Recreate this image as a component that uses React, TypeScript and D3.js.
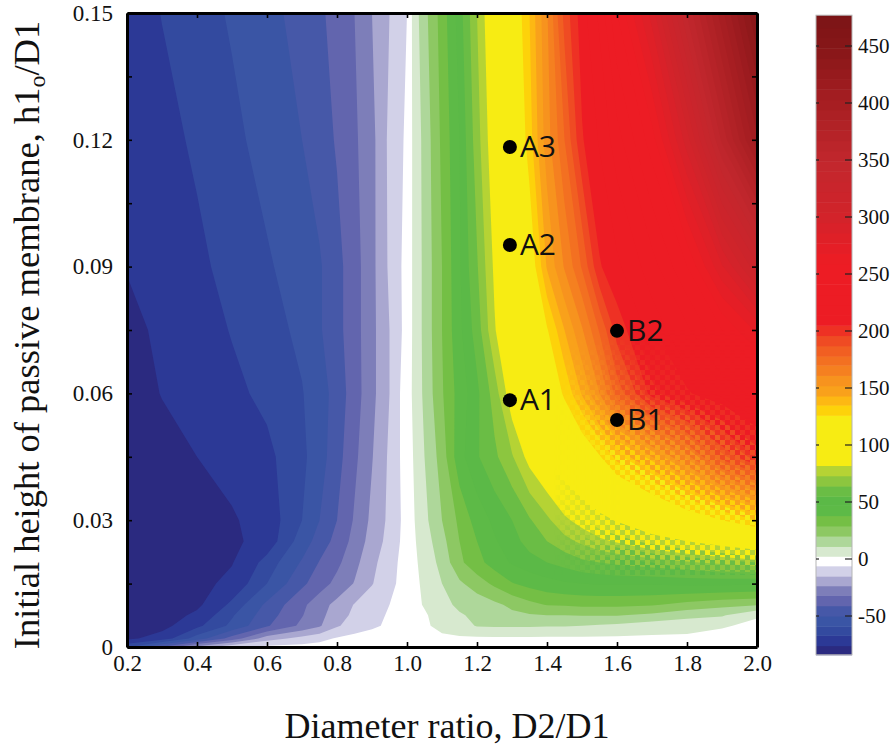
import React, { useEffect, useRef } from 'react';
import * as d3 from 'd3';

// D2/D1 columns and h1o/D1 rows of the value table (not evenly spaced)
const ratios = [0.2, 0.3, 0.4, 0.5, 0.6, 0.7, 0.75, 0.8, 0.85, 0.9, 0.95, 0.98, 1.0, 1.02, 1.05, 1.1, 1.15, 1.2, 1.25, 1.3, 1.35, 1.4, 1.45, 1.5, 1.55, 1.6, 1.7, 1.8, 1.9, 2.0];
const heights = [0, 0.002, 0.005, 0.0075, 0.01, 0.015, 0.02, 0.025, 0.03, 0.045, 0.06, 0.075, 0.09, 0.12, 0.15];

const row000 = [-60, -40, -20, -8, -4, -3, -2, -2, -1, -1, -1, -1, -1, 0, 0, 0, 0, 0, 0, 0, 0, 0, 0, 0, 0, 0, 0, 0, 0, 0];
const row002 = [-78, -72, -55, -37, -19, -12, -9, -5, -3, -2, -1, -1, -1, 0, 0, 0.5, 1, 1, 1, 1, 1, 1, 1, 1, 1, 1, 1, 1, 0, 0];
const row005 = [-84, -79, -69, -57, -42, -30, -24.5, -16, -11, -7.5, -4.5, -3, -2, -1, 1, 5, 8, 11.5, 12, 12, 12, 11.5, 11.5, 11, 10, 9, 6, 5, 3, 1];
const row0075 = [-84, -81, -74, -60, -45, -32.5, -26, -19, -13, -9, -5, -3, -1.5, 0, 1.5, 6, 10, 13, 15, 18, 19, 20, 20, 20.5, 20.5, 20.5, 18, 14, 12, 3];
const row010 = [-84, -81, -78, -65, -48, -34, -27, -21, -14.5, -10, -6, -3.5, -2, 0.5, 3, 8, 13, 15, 18, 22, 26.5, 29.5, 30, 31, 31, 31, 30, 26, 23, 21];
const row015 = [-84, -82, -79, -73.5, -59, -43, -36, -29.5, -23, -15.5, -8.5, -4.5, -2, 0.5, 4, 11, 18.5, 24.5, 31, 37.5, 41, 44, 46, 47, 48, 48, 48, 49, 49, 48];
const row020 = [-84, -82, -79, -76.5, -64, -49, -40.5, -34, -26, -17.5, -9.5, -5, -2, 1, 5, 14, 27, 35, 42, 48, 52, 55, 58, 62, 64, 66, 69, 72, 75, 78];
const row025 = [-84, -82, -80, -78, -72, -55, -46, -38, -29, -20, -12, -6, -2, 1.5, 6.5, 17, 29, 38, 46, 52, 58, 64, 70, 75, 80, 83, 90, 96, 102, 108];
const row030 = [-84, -82, -80, -77, -72, -59, -50, -41, -31, -21.5, -13, -6.5, -2.5, 2, 8.5, 20, 31, 42, 49, 55, 63, 71, 80, 86, 92, 97, 108, 118, 126, 135];
const row045 = [-82, -79, -76, -72.5, -69, -61, -54, -44.5, -34, -24, -13.5, -6, -1.5, 3, 11, 24, 44, 54, 62, 72, 86, 96, 106, 115, 125, 138, 152, 168, 190, 205];
const row060 = [-80, -75.7, -72, -69, -65, -59.5, -54, -46.5, -36, -26, -15, -6, -1, 4, 13, 28, 42, 53, 68, 89, 102, 113, 128, 144, 161, 182, 208, 218, 225, 235];
const row075 = [-79, -74, -71, -66.5, -62.5, -57, -51, -44, -35.5, -26, -15, -7.5, -2, 4, 13.5, 29, 45, 59, 81, 96, 110, 125, 143, 160, 179, 200, 218, 230, 250, 270];
const row090 = [-75.5, -72, -69, -64, -60, -55, -51, -44, -35.5, -26, -13.5, -7, -2, 4, 13.5, 29, 46, 63, 84, 100, 117, 144, 162, 179, 204, 212, 228, 250, 285, 320];
const row120 = [-75, -70, -65.5, -61, -56, -50, -45.5, -40, -33.5, -26, -13, -8.5, -3.5, 4.5, 14, 31, 47, 69, 90, 109, 131, 157, 178, 204, 215, 228, 255, 300, 360, 410];
const row150 = [-72, -66.7, -62.5, -58, -53.5, -46, -42.5, -38, -32, -23.5, -15, -10, -6, 6, 17, 33, 51, 73, 94, 115, 135, 160, 190, 210, 225, 250, 290, 350, 400, 450];
const tableRows = [row000, row002, row005, row0075, row010, row015, row020, row025, row030, row045, row060, row075, row090, row120, row150];

// colour bands
const bandEdges = [-84, -76, -67, -59, -50, -41, -32, -23.5, -15, -6, 2.4, 11, 20, 29, 38, 47, 55, 64, 73, 82, 126, 135, 143, 152, 161, 170, 178, 187, 196, 205];
const bandColors = ['#2b2a80', '#2c3996', '#334a9f', '#3a55a5', '#4658a8', '#6265ae', '#7d7eb9', '#a9a7d0', '#d2d1e8', '#ffffff', '#d7e9cf', '#aed79a', '#8dc863', '#74bf45', '#5dba47', '#5bb947', '#6abd45', '#8cc63f', '#b5d334', '#f7ec13', '#fdd20a', '#fdb813', '#f9a11b', '#f7931e', '#f58020', '#f37021', '#f15f22', '#ef4b23', '#ee3124'];
const redValues = [205, 260, 300, 350, 400, 450, 480];
const redColors = ['#ed1c24', '#ed1c24', '#d2232a', '#c1272d', '#a61e22', '#861618', '#7a1416'];

const xTicks = [0.2, 0.4, 0.6, 0.8, 1.0, 1.2, 1.4, 1.6, 1.8, 2.0];
const yMinorTicks = [0.015, 0.03, 0.045, 0.06, 0.075, 0.09, 0.105, 0.12, 0.135];
const yLabels = [0, 0.03, 0.06, 0.09, 0.12, 0.15];
const barTicks = [-50, 0, 50, 100, 150, 200, 250, 300, 350, 400, 450];

const pointNames = ['A1', 'A2', 'A3', 'B1', 'B2'];
const pointRatios = [1.294, 1.294, 1.294, 1.6, 1.6];
const pointHeights = [0.0584, 0.0951, 0.1183, 0.0537, 0.0748];

const SERIF = '"Liberation Serif", serif';
const SANS = '"Open Sans", sans-serif';

const App = () => {
    const ref = useRef<SVGSVGElement>(null);

    useEffect(() => {
        const svg = d3.select(ref.current);
        svg.selectAll('*').remove();

        const x = d3.scaleLinear().domain([0.2, 2.0]).range([127, 757]);
        const y = d3.scaleLinear().domain([0, 0.15]).range([647, 13]);
        const barY = d3.scaleLinear().domain([0, 450]).range([559, 46]);

        // red end of the palette is a gradient cut into thin steps
        const redScale = d3.scaleLinear<string>().domain(redValues).range(redColors);
        const redEdges = d3.range(205, 480, 9);
        const edges = bandEdges.concat(redEdges.slice(1));
        const colors = bandColors.concat(redEdges.map(v => redScale(v + 4)));

        // contours work on index space, grid point i sits at i + 0.5
        const n = ratios.length;
        const m = heights.length;
        const gridX = d3.scaleLinear()
            .domain([0, ...ratios.map((_, i) => i + 0.5), n])
            .range([ratios[0], ...ratios, ratios[n - 1]]);
        const gridY = d3.scaleLinear()
            .domain([0, ...heights.map((_, i) => i + 0.5), m])
            .range([heights[0], ...heights, heights[m - 1]]);

        const makeContours = d3.contours().size([n, m]).thresholds(edges.slice(1));
        const path = d3.geoPath(d3.geoTransform({
            point(px, py) {
                this.stream.point(x(gridX(px)), y(gridY(py)));
            },
        }));

        const plot = svg.append('g');
        plot.append('rect')
            .attr('x', x(0.2)).attr('y', y(0.15))
            .attr('width', x(2.0) - x(0.2)).attr('height', y(0) - y(0.15))
            .attr('fill', colors[0]);
        plot.selectAll('path')
            .data(makeContours(tableRows.flat()))
            .enter()
            .append('path')
            .attr('d', d => path(d))
            .attr('fill', (_, i) => colors[i + 1]);

        // lower right of the original has a checkered aliasing between bands
        const defs = svg.append('defs');
        const pattern = defs.append('pattern')
            .attr('id', 'checker')
            .attr('patternUnits', 'userSpaceOnUse')
            .attr('width', 10).attr('height', 10);
        pattern.append('rect').attr('width', 5).attr('height', 5).attr('fill', '#fff');
        pattern.append('rect').attr('x', 5).attr('y', 5).attr('width', 5).attr('height', 5).attr('fill', '#fff');
        const fadeLeft = defs.append('linearGradient').attr('id', 'fadeLeft');
        const fadeTop = defs.append('linearGradient').attr('id', 'fadeTop')
            .attr('x1', 0).attr('y1', 0).attr('x2', 0).attr('y2', 1);
        [fadeLeft, fadeTop].forEach(g => {
            g.append('stop').attr('offset', 0).attr('stop-color', '#000').attr('stop-opacity', 1);
            g.append('stop').attr('offset', 1).attr('stop-color', '#000').attr('stop-opacity', 0);
        });
        const maskBox = { x: x(1.42), y: y(0.075), width: x(2.0) - x(1.42), height: y(0.017) - y(0.075) };
        const mask = defs.append('mask')
            .attr('id', 'checkMask')
            .attr('maskUnits', 'userSpaceOnUse')
            .attr('x', maskBox.x).attr('y', maskBox.y)
            .attr('width', maskBox.width).attr('height', maskBox.height);
        mask.append('rect')
            .attr('x', maskBox.x).attr('y', maskBox.y)
            .attr('width', maskBox.width).attr('height', maskBox.height)
            .attr('fill', 'url(#checker)');
        mask.append('rect')
            .attr('x', x(1.42)).attr('y', maskBox.y)
            .attr('width', x(1.62) - x(1.42)).attr('height', maskBox.height)
            .attr('fill', 'url(#fadeLeft)');
        mask.append('rect')
            .attr('x', maskBox.x).attr('y', y(0.075))
            .attr('width', maskBox.width).attr('height', y(0.05) - y(0.075))
            .attr('fill', 'url(#fadeTop)');
        const lowered = tableRows.flat().map(v => (v >= 55 ? v - 14 : v));
        svg.append('g')
            .attr('mask', 'url(#checkMask)')
            .selectAll('path')
            .data(makeContours(lowered))
            .enter()
            .append('path')
            .attr('d', d => path(d))
            .attr('fill', (_, i) => colors[i + 1]);

        // frame and ticks
        const axisStyle = (g, size) => {
            g.select('.domain').attr('stroke', '#000').attr('stroke-width', 3);
            g.selectAll('.tick line').attr('stroke', '#000').attr('stroke-width', 1.6);
            g.selectAll('text')
                .attr('font-family', SERIF)
                .attr('font-size', size)
                .attr('fill', '#111');
        };
        const fmtX = d3.format('.1f');
        const bottom = svg.append('g').attr('transform', `translate(0,${y(0)})`)
            .call(d3.axisBottom(x).tickValues(xTicks).tickSize(-5).tickSizeOuter(0).tickPadding(8).tickFormat(d => fmtX(d)));
        axisStyle(bottom, 23);
        const top = svg.append('g').attr('transform', `translate(0,${y(0.15)})`)
            .call(d3.axisTop(x).tickValues(xTicks).tickSize(-5).tickSizeOuter(0).tickFormat(() => ''));
        axisStyle(top, 23);

        const yVals = yLabels.concat(yMinorTicks.filter(v => !yLabels.includes(v)));
        const left = svg.append('g').attr('transform', `translate(${x(0.2)},0)`)
            .call(d3.axisLeft(y).tickValues(yVals).tickSize(-5).tickSizeOuter(0).tickPadding(14)
                .tickFormat(d => (yLabels.includes(+d) ? (+d === 0 ? '0' : d3.format('.2f')(d)) : '')));
        axisStyle(left, 23);
        const right = svg.append('g').attr('transform', `translate(${x(2.0)},0)`)
            .call(d3.axisRight(y).tickValues(yVals).tickSize(-5).tickSizeOuter(0).tickFormat(() => ''));
        axisStyle(right, 23);

        // marked points
        const points = svg.append('g').selectAll('g')
            .data(pointNames)
            .enter()
            .append('g')
            .attr('transform', (_, i) => `translate(${x(pointRatios[i])},${y(pointHeights[i])})`);
        points.append('circle').attr('r', 7).attr('fill', '#000');
        points.append('text')
            .attr('x', 10).attr('y', 10)
            .attr('font-family', SANS).attr('font-size', 30)
            .attr('fill', '#111')
            .text(d => d);

        // colour bar
        const barLeft = 816;
        const barWidth = 36;
        const bar = svg.append('g');
        bar.selectAll('rect')
            .data(edges)
            .enter()
            .append('rect')
            .attr('x', barLeft)
            .attr('width', barWidth)
            .attr('y', (_, i) => barY(i + 1 < edges.length ? edges[i + 1] : 477))
            .attr('height', (d, i) => barY(d) - barY(i + 1 < edges.length ? edges[i + 1] : 477) + 0.5)
            .attr('fill', (_, i) => colors[i]);
        bar.append('rect')
            .attr('x', barLeft).attr('width', barWidth)
            .attr('y', barY(477)).attr('height', barY(-84) - barY(477))
            .attr('fill', 'none').attr('stroke', '#b5b5b5').attr('stroke-width', 1);
        const barAxis = svg.append('g').attr('transform', `translate(${barLeft + barWidth},0)`)
            .call(d3.axisRight(barY).tickValues(barTicks).tickSize(0).tickPadding(6).tickFormat(d => String(d)));
        barAxis.select('.domain').remove();
        barAxis.selectAll('text')
            .attr('font-family', SERIF).attr('font-size', 21).attr('fill', '#111');
        const marks = svg.append('g').selectAll('g').data(barTicks).enter().append('g');
        marks.append('line')
            .attr('x1', barLeft).attr('x2', barLeft + 3)
            .attr('y1', d => barY(d)).attr('y2', d => barY(d))
            .attr('stroke', '#222').attr('stroke-width', 1.2);
        marks.append('line')
            .attr('x1', barLeft + barWidth - 7).attr('x2', barLeft + barWidth)
            .attr('y1', d => barY(d)).attr('y2', d => barY(d))
            .attr('stroke', '#222').attr('stroke-width', 1.2);

        // titles
        svg.append('text')
            .attr('x', 447).attr('y', 738)
            .attr('text-anchor', 'middle')
            .attr('font-family', SERIF).attr('font-size', 36).attr('fill', '#111')
            .text('Diameter ratio, D2/D1');
        const yTitle = svg.append('text')
            .attr('transform', 'translate(39,335) rotate(-90)')
            .attr('text-anchor', 'middle')
            .attr('font-family', SERIF).attr('font-size', 36.5).attr('fill', '#111');
        yTitle.append('tspan').text('Initial height of passive membrane, h1');
        yTitle.append('tspan').attr('font-size', 24).attr('dy', 6).text('o');
        yTitle.append('tspan').attr('dy', -6).text('/D1');
    }, []);

    return <svg ref={ref} width={891} height={746} style={{ position: 'absolute', left: 0, top: 0 }} />;
};

export default App;
